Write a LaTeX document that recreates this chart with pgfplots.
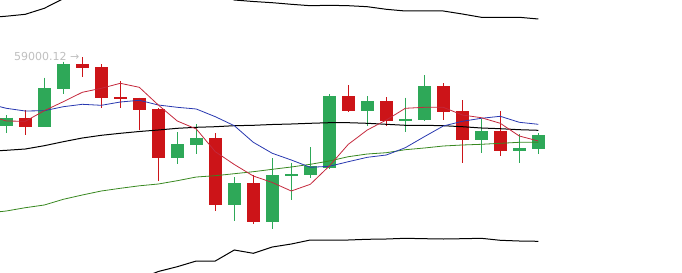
\documentclass[border=0pt]{standalone}
\usepackage{pgfplots}
\pgfplotsset{compat=1.18}
\usepackage{pgfplotstable}
\usepackage{fontspec}
\newfontfamily\dv{DejaVu Sans}
\definecolor{cup}{RGB}{46,168,88}
\definecolor{cdn}{RGB}{204,20,24}
\definecolor{mared}{RGB}{196,40,60}
\definecolor{mablue}{RGB}{40,56,176}
\definecolor{magreen}{RGB}{56,136,32}

% candle values in chart units (screen-down scale)
\pgfplotstableread{
idx open high low close
0 125.7 115 132.7 117.7
2 126.7 77.7 127.3 88
3 88.7 61.7 93.7 64
9 157.7 132.3 163.7 144
10 144.7 124 154 138
12 204.7 177.3 220.7 183
14 221.7 158.3 229.3 175
15 175.7 162.7 200.3 174
16 175 147.3 178.3 166.3
17 167.7 94 168.5 96
19 110.7 96.3 125.7 101
21 120.7 97.7 131.7 118.7
22 119.7 75 120.5 86
25 139.7 119 152.7 131
27 150.7 134.3 163.3 148
28 148.7 133 153.7 135
}\upT

\pgfplotstableread{
idx open high low close
1 118 110 135.3 126.7
4 64 57.3 77 67.7
5 67 64.3 108.3 97.7
6 97 81 108.3 98.7
7 98 97.5 129.7 109.7
8 109 108 181 157.7
11 138 133 210.7 204.7
13 183 175 223.7 221.7
18 96 85.3 112.3 110.7
20 101 97 125.7 120.7
23 86 83 120.3 111.7
24 111 100 162.7 139.7
26 131 111 156.3 150.7
}\dnT

\pgfplotstableread{
idx red blue mid upper lower green
-1 115 103.5 151.3 17.7 284.5 213
0 121 108.3 150.3 16.2 285 211
1 121.3 111 149 14.3 283.7 207.7
2 110.7 110.7 145.7 8.3 283 205
3 101.7 106.7 141.7 -1.3 284.7 199.3
4 92.3 104.3 138 -10 286 195
5 88.3 105.3 135.3 -16.7 287.3 191
6 83.3 102 133.3 -19.7 286.3 188.3
7 87.3 100.3 131.5 -18.5 279 185.8
8 105 105 130 -14 271.5 184
9 121 107.3 128.3 -10.1 266.7 180.7
10 129 109 127.3 -6.4 261 177
11 151.7 116.7 126.7 -7.6 261 175.7
12 164.5 125.7 125.7 0 250 173.7
13 176 142.3 125.3 1.5 253.3 171.7
14 182.5 153.3 124.5 2.7 247 169.3
15 191 160 124 4.3 244 167
16 184.3 167.3 123.3 5.7 240 164.3
17 166 166.3 122.7 5.3 240 161
18 144.3 161.7 122.7 5.7 240 156.7
19 130 157.3 123.3 6.7 239.3 154
20 120 155 124.3 9.3 239 152.7
21 108.3 147.7 125.3 11 238.3 149.7
22 107.3 136.7 125.3 11 238.7 148
23 107.3 126 125.7 11 239 146
24 115 121.3 126.7 14 238.7 145
25 117.7 118.3 128 17.3 238.3 144.3
26 123.3 116.3 128.7 17.3 240.3 143.3
27 136 122.3 129.7 17.3 241 142.3
28 141 124.3 130.3 19 241.3 142.3
}\linesT

\begin{document}
\begin{tikzpicture}
\begin{axis}[
  scale only axis, width=682bp, height=273bp,
  axis line style={draw=none}, xtick=\empty, ytick=\empty,
  clip=true,
  xmin=-0.3316, xmax=35.563,
  ymin=0, ymax=273, y dir=reverse,
]
% wicks
\addplot[draw=none, mark=none, error bars/.cd, y dir=plus, y explicit, error mark=none,
  error bar style={draw=cup, line width=1.3bp}]
  table[x=idx, y=high, y error plus expr={\thisrow{low}-\thisrow{high}}] {\upT};
\addplot[draw=none, mark=none, error bars/.cd, y dir=plus, y explicit, error mark=none,
  error bar style={draw=cdn, line width=1.3bp}]
  table[x=idx, y=high, y error plus expr={\thisrow{low}-\thisrow{high}}] {\dnT};
% bodies
\addplot[draw=none, mark=none, error bars/.cd, y dir=plus, y explicit, error mark=none,
  error bar style={draw=cup, line width=12.7bp}]
  table[x=idx, y expr={min(\thisrow{open},\thisrow{close})}, y error plus expr={abs(\thisrow{open}-\thisrow{close})}] {\upT};
\addplot[draw=none, mark=none, error bars/.cd, y dir=plus, y explicit, error mark=none,
  error bar style={draw=cdn, line width=12.7bp}]
  table[x=idx, y expr={min(\thisrow{open},\thisrow{close})}, y error plus expr={abs(\thisrow{open}-\thisrow{close})}] {\dnT};
% lines
\addplot[magreen, line width=0.8bp, mark=none] table[x=idx, y=green] {\linesT};
\addplot[black, line width=1bp, mark=none] table[x=idx, y=upper] {\linesT};
\addplot[black, line width=1bp, mark=none] table[x=idx, y=lower] {\linesT};
\addplot[black, line width=1bp, mark=none] table[x=idx, y=mid] {\linesT};
\addplot[mablue, line width=0.8bp, mark=none] table[x=idx, y=blue] {\linesT};
\addplot[mared, line width=0.8bp, mark=none] table[x=idx, y=red] {\linesT};
\node[anchor=base west, inner sep=0pt, text=black!25, font=\dv\fontsize{11bp}{13bp}\selectfont]
  at (axis cs:0.405,61) {59000.12 →};
\end{axis}
\end{tikzpicture}
\end{document}
